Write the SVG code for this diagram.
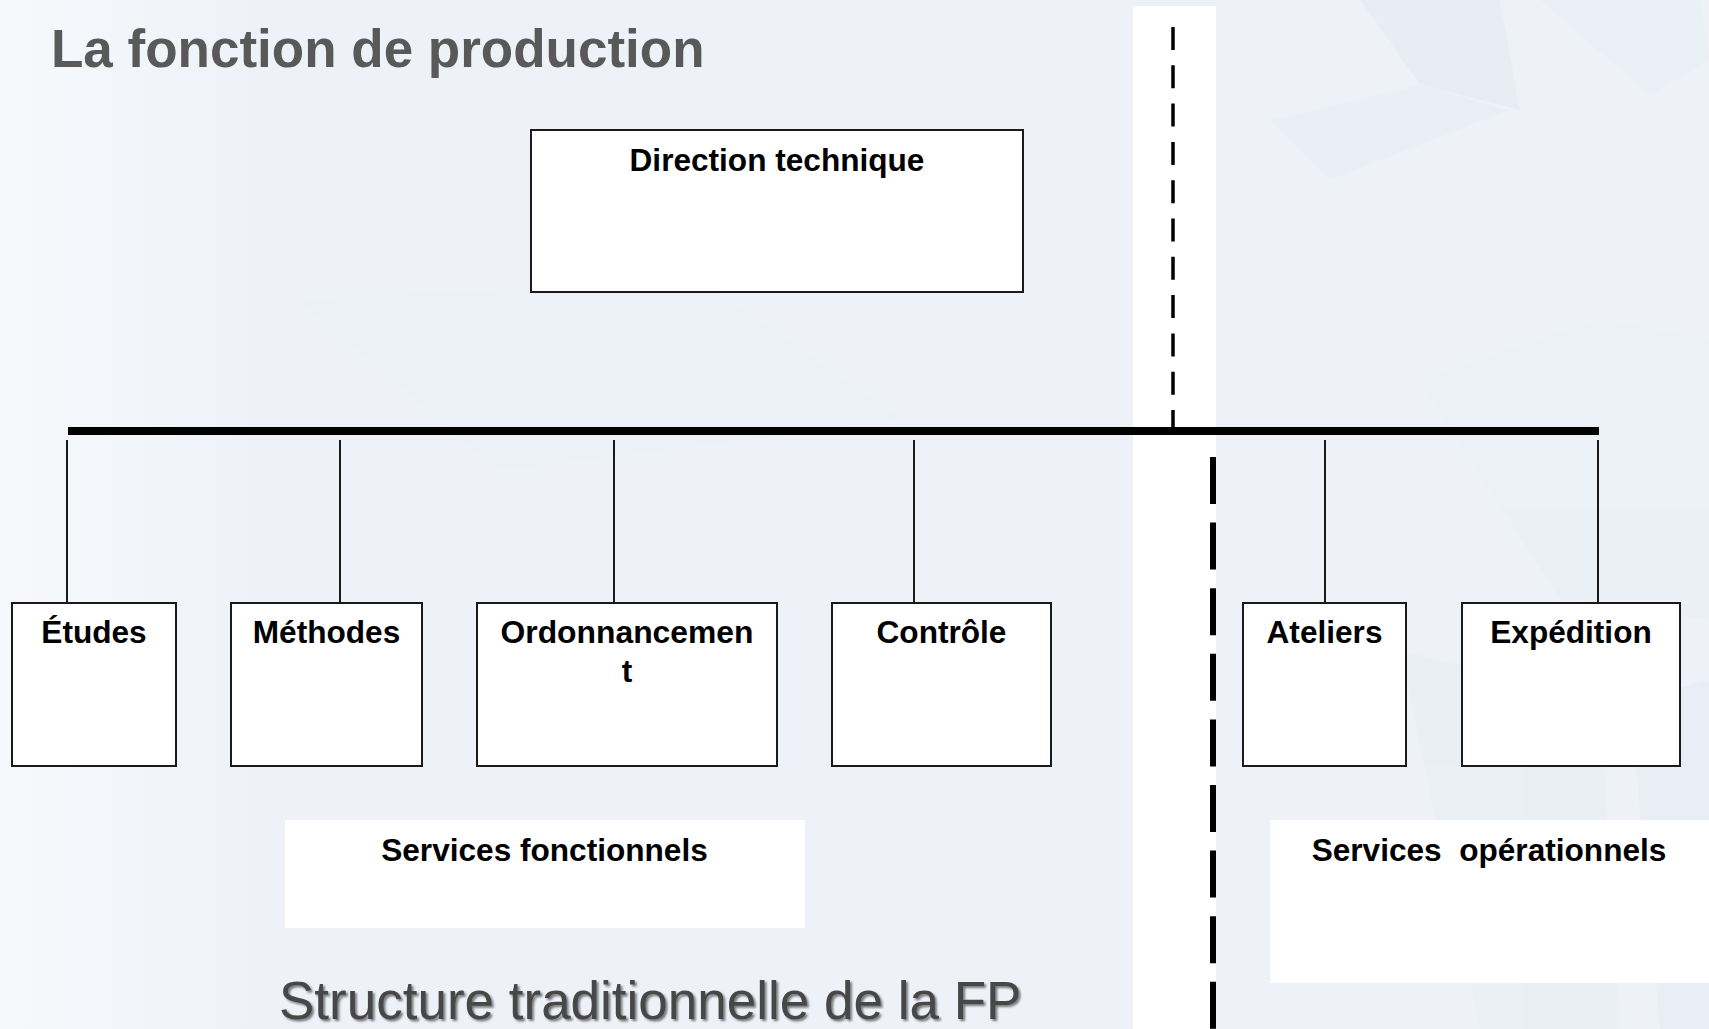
<svg xmlns="http://www.w3.org/2000/svg" width="1709" height="1029" viewBox="0 0 1709 1029">
  <defs>
    <filter id="shadow" x="-5%" y="-20%" width="110%" height="150%">
      <feDropShadow dx="2" dy="2" stdDeviation="1" flood-color="#000000" flood-opacity="0.5"/>
    </filter>
    <linearGradient id="leftfade" x1="0" y1="0" x2="1" y2="0">
      <stop offset="0" stop-color="#ffffff" stop-opacity="0.5"/>
      <stop offset="1" stop-color="#ffffff" stop-opacity="0"/>
    </linearGradient>
  </defs>
  <style>
    .box { fill: #ffffff; stroke: #1a1a1a; stroke-width: 2; }
    .panel { fill: #ffffff; stroke: none; }
    .lbl { font-family: "Liberation Sans", Arial, sans-serif; font-weight: bold; font-size: 31.6px; fill: #000000; text-anchor: middle; }
    .conn { stroke: #1a1a1a; stroke-width: 2; fill: none; }
  </style>

  <!-- background -->
  <rect x="0" y="0" width="1709" height="1029" fill="#eef2f8"/>
  <g id="bg-shapes" opacity="0.5">
    <polygon points="1360,0 1420,85 1520,110 1500,0" fill="#e3eaf4"/>
    <polygon points="1540,0 1700,0 1709,60 1650,95" fill="#e6edf6"/>
    <polygon points="1270,120 1420,85 1510,110 1330,180" fill="#e8eef7"/>
    <polygon points="1420,380 1600,320 1709,340 1709,620 1560,600" fill="#e9eff7"/>
    <polygon points="1400,650 1600,700 1620,1029 1480,1029" fill="#e8eef6"/>
    <polygon points="1630,700 1709,680 1709,1029 1660,1029" fill="#e5ecf5"/>
    <polygon points="300,300 700,280 900,420 500,470" fill="#eaeff7"/>
  </g>
  <rect x="0" y="0" width="260" height="1029" fill="url(#leftfade)"/>

  <!-- white separator column -->
  <rect x="1133" y="6" width="83" height="1023" fill="#ffffff"/>

  <!-- title -->
  <text x="51" y="67" font-family="'Liberation Sans', Arial, sans-serif" font-weight="bold" font-size="53" fill="#595959">La fonction de production</text>

  <!-- connectors -->
  <g id="connectors">
    <line x1="1173" y1="27" x2="1173" y2="431" stroke="#000000" stroke-width="3.5" stroke-dasharray="23 15.3"/>
    <line x1="68" y1="431" x2="1599" y2="431" stroke="#000000" stroke-width="8"/>
    <line x1="1213" y1="457" x2="1213" y2="1029" stroke="#000000" stroke-width="6" stroke-dasharray="47 18.6"/>
    <line class="conn" x1="67" y1="440" x2="67" y2="603"/>
    <line class="conn" x1="340" y1="440" x2="340" y2="603"/>
    <line class="conn" x1="614" y1="440" x2="614" y2="603"/>
    <line class="conn" x1="914" y1="440" x2="914" y2="603"/>
    <line class="conn" x1="1325" y1="440" x2="1325" y2="603"/>
    <line class="conn" x1="1598" y1="440" x2="1598" y2="603"/>
  </g>

  <!-- nodes -->
  <g id="direction-technique">
    <rect class="box" x="531" y="130" width="492" height="162"/>
    <text class="lbl" x="777" y="171">Direction technique</text>
  </g>
  <g id="etudes">
    <rect class="box" x="12" y="603" width="164" height="163"/>
    <text class="lbl" x="94" y="643">Études</text>
  </g>
  <g id="methodes">
    <rect class="box" x="231" y="603" width="191" height="163"/>
    <text class="lbl" x="326.5" y="643">Méthodes</text>
  </g>
  <g id="ordonnancement">
    <rect class="box" x="477" y="603" width="300" height="163"/>
    <text class="lbl" x="627" y="643" textLength="253" lengthAdjust="spacingAndGlyphs">Ordonnancemen</text>
    <text class="lbl" x="627" y="682">t</text>
  </g>
  <g id="controle">
    <rect class="box" x="832" y="603" width="219" height="163"/>
    <text class="lbl" x="941.5" y="643">Contrôle</text>
  </g>
  <g id="ateliers">
    <rect class="box" x="1243" y="603" width="163" height="163"/>
    <text class="lbl" x="1324.5" y="643">Ateliers</text>
  </g>
  <g id="expedition">
    <rect class="box" x="1462" y="603" width="218" height="163"/>
    <text class="lbl" x="1571" y="643">Expédition</text>
  </g>
  <g id="services-fonctionnels">
    <rect class="panel" x="285" y="820" width="520" height="108"/>
    <text class="lbl" x="544.5" y="861">Services fonctionnels</text>
  </g>
  <g id="services-operationnels">
    <rect class="panel" x="1270" y="820" width="439" height="163"/>
    <text class="lbl" x="1489" y="861" xml:space="preserve" style="white-space: pre">Services  opérationnels</text>
  </g>

  <!-- caption -->
  <text x="279" y="1019" font-family="'Liberation Sans', Arial, sans-serif" font-size="53" fill="#474747" filter="url(#shadow)">Structure traditionnelle de la FP</text>
</svg>
